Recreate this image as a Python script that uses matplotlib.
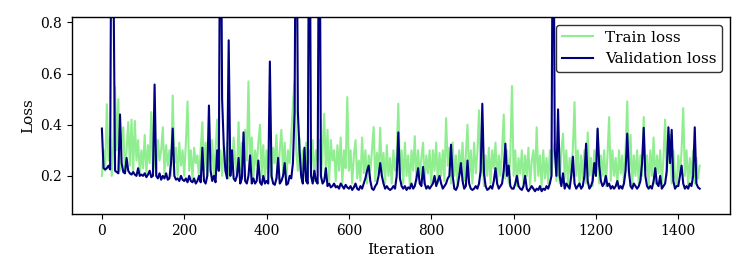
import numpy as np
import matplotlib
matplotlib.use("Agg")
import matplotlib.pyplot as plt

step = 4  # one recorded value every 4 iterations

val_loss = [
    # 0-96
    0.385, 0.23, 0.225, 0.23, 0.24, 0.225, 1.6, 1.0, 0.22, 0.215, 0.21, 0.44, 0.25,
    0.215, 0.21, 0.27, 0.22, 0.21, 0.205, 0.215, 0.205, 0.2, 0.23, 0.2, 0.205,
    # 100-196
    0.2, 0.21, 0.195, 0.205, 0.22, 0.195, 0.2, 0.557, 0.2, 0.19, 0.21, 0.185, 0.2,
    0.19, 0.21, 0.185, 0.19, 0.25, 0.385, 0.2, 0.185, 0.19, 0.18, 0.2, 0.185,
    # 200-296
    0.18, 0.19, 0.175, 0.2, 0.18, 0.175, 0.19, 0.17, 0.18, 0.2, 0.175, 0.31, 0.18,
    0.17, 0.2, 0.475, 0.22, 0.18, 0.2, 0.175, 0.3, 0.22, 1.6, 0.5, 0.32,
    # 300-396
    0.22, 0.19, 0.73, 0.2, 0.3, 0.19, 0.18, 0.2, 0.27, 0.17, 0.19, 0.37, 0.18,
    0.17, 0.2, 0.28, 0.17, 0.19, 0.17, 0.18, 0.26, 0.175, 0.165, 0.2, 0.17,
    # 400-496
    0.18, 0.17, 0.647, 0.2, 0.17, 0.165, 0.19, 0.27, 0.17, 0.18, 0.2, 0.25, 0.165,
    0.17, 0.2, 0.19, 0.25, 0.45, 1.6, 0.45, 0.3, 0.2, 0.17, 0.31, 0.18,
    # 500-596
    0.17, 1.6, 0.2, 0.17, 0.22, 0.18, 0.17, 1.6, 0.2, 0.17, 0.18, 0.23, 0.16,
    0.17, 0.155, 0.16, 0.17, 0.155, 0.16, 0.15, 0.17, 0.16, 0.15, 0.165, 0.155,
    # 600-696
    0.15, 0.16, 0.145, 0.155, 0.17, 0.15, 0.145, 0.16, 0.15, 0.17, 0.19, 0.22, 0.24,
    0.18, 0.15, 0.145, 0.16, 0.17, 0.2, 0.25, 0.2, 0.17, 0.15, 0.16, 0.15,
    # 700-796
    0.145, 0.15, 0.16, 0.15, 0.2, 0.37, 0.19, 0.16, 0.15, 0.16, 0.145, 0.155, 0.15,
    0.17, 0.15, 0.16, 0.19, 0.23, 0.17, 0.16, 0.235, 0.17, 0.15, 0.16, 0.15,
    # 800-896
    0.16, 0.17, 0.2, 0.16, 0.18, 0.2, 0.17, 0.15, 0.16, 0.17, 0.19, 0.2, 0.322,
    0.2, 0.15, 0.145, 0.16, 0.2, 0.25, 0.18, 0.15, 0.16, 0.26, 0.17, 0.15,
    # 900-996
    0.145, 0.15, 0.16, 0.15, 0.17, 0.22, 0.482, 0.21, 0.16, 0.145, 0.15, 0.16, 0.15,
    0.18, 0.23, 0.17, 0.15, 0.16, 0.17, 0.22, 0.326, 0.2, 0.24, 0.16, 0.15,
    # 1000-1096
    0.15, 0.17, 0.2, 0.16, 0.15, 0.145, 0.16, 0.2, 0.15, 0.14, 0.15, 0.16, 0.15,
    0.14, 0.15, 0.145, 0.16, 0.14, 0.15, 0.145, 0.16, 0.15, 0.17, 0.2, 1.6,
    # 1100-1196
    0.3, 0.2, 0.46, 0.2, 0.16, 0.21, 0.15, 0.17, 0.16, 0.15, 0.2, 0.275, 0.17,
    0.15, 0.16, 0.17, 0.15, 0.16, 0.2, 0.326, 0.18, 0.15, 0.16, 0.18, 0.25,
    # 1200-1296
    0.2, 0.385, 0.24, 0.18, 0.16, 0.17, 0.2, 0.16, 0.17, 0.15, 0.16, 0.15, 0.16,
    0.18, 0.15, 0.16, 0.15, 0.17, 0.22, 0.365, 0.22, 0.16, 0.15, 0.17, 0.16,
    # 1300-1396
    0.15, 0.16, 0.18, 0.25, 0.388, 0.2, 0.16, 0.15, 0.16, 0.15, 0.18, 0.23, 0.17,
    0.16, 0.2, 0.15, 0.16, 0.17, 0.22, 0.39, 0.25, 0.38, 0.18, 0.15, 0.16,
    # 1400-1452
    0.16, 0.2, 0.24, 0.17, 0.15, 0.16, 0.15, 0.17, 0.16, 0.2, 0.39, 0.17, 0.155, 0.15,
]

train_loss = [
    # 0-96
    0.2, 0.3, 0.22, 0.48, 0.26, 0.35, 0.2, 0.33, 0.547, 0.3, 0.5, 0.22, 0.33,
    0.39, 0.21, 0.3, 0.41, 0.24, 0.42, 0.22, 0.415, 0.26, 0.34, 0.21, 0.3,
    # 100-196
    0.23, 0.36, 0.21, 0.32, 0.25, 0.449, 0.22, 0.3, 0.2, 0.34, 0.26, 0.3, 0.39,
    0.21, 0.32, 0.24, 0.3, 0.2, 0.514, 0.25, 0.31, 0.2, 0.33, 0.24, 0.3,
    # 200-296
    0.2, 0.33, 0.491, 0.22, 0.3, 0.19, 0.31, 0.25, 0.28, 0.19, 0.3, 0.41, 0.22,
    0.33, 0.2, 0.3, 0.26, 0.34, 0.19, 0.3, 0.42, 0.22, 0.3, 0.2, 0.31,
    # 300-396
    0.24, 0.33, 0.19, 0.3, 0.22, 0.35, 0.25, 0.2, 0.41, 0.22, 0.33, 0.2, 0.38,
    0.26, 0.569, 0.22, 0.35, 0.19, 0.3, 0.24, 0.33, 0.4, 0.2, 0.32, 0.18,
    # 400-496
    0.3, 0.21, 0.35, 0.19, 0.31, 0.25, 0.36, 0.19, 0.3, 0.38, 0.22, 0.33, 0.18,
    0.3, 0.25, 0.36, 0.48, 0.57, 0.3, 0.22, 0.35, 0.19, 0.3, 0.24, 0.33,
    # 500-596
    0.19, 0.3, 0.24, 0.34, 0.18, 0.3, 0.26, 0.34, 0.19, 0.3, 0.443, 0.21, 0.38,
    0.18, 0.34, 0.26, 0.3, 0.18, 0.32, 0.22, 0.35, 0.17, 0.3, 0.23, 0.508,
    # 600-696
    0.22, 0.3, 0.17, 0.28, 0.34, 0.19, 0.26, 0.18, 0.35, 0.21, 0.3, 0.17, 0.28,
    0.22, 0.3, 0.391, 0.18, 0.29, 0.21, 0.388, 0.2, 0.29, 0.17, 0.32, 0.2,
    # 700-796
    0.27, 0.17, 0.3, 0.22, 0.28, 0.482, 0.2, 0.3, 0.17, 0.33, 0.2, 0.28, 0.16,
    0.3, 0.22, 0.355, 0.18, 0.3, 0.2, 0.27, 0.33, 0.17, 0.28, 0.21, 0.3,
    # 800-896
    0.17, 0.3, 0.22, 0.33, 0.17, 0.29, 0.2, 0.3, 0.18, 0.426, 0.24, 0.31, 0.17,
    0.33, 0.2, 0.28, 0.16, 0.3, 0.21, 0.33, 0.18, 0.28, 0.4, 0.19, 0.3,
    # 900-996
    0.17, 0.33, 0.21, 0.29, 0.456, 0.2, 0.3, 0.16, 0.28, 0.2, 0.31, 0.17, 0.3,
    0.23, 0.33, 0.17, 0.28, 0.2, 0.3, 0.44, 0.19, 0.3, 0.17, 0.28, 0.551,
    # 1000-1096
    0.2, 0.3, 0.16, 0.27, 0.21, 0.3, 0.17, 0.28, 0.2, 0.31, 0.16, 0.26, 0.3,
    0.18, 0.39, 0.2, 0.28, 0.16, 0.3, 0.19, 0.27, 0.17, 0.3, 0.2, 0.29,
    # 1100-1196
    0.33, 0.18, 0.28, 0.17, 0.3, 0.365, 0.19, 0.3, 0.16, 0.27, 0.2, 0.31, 0.488,
    0.2, 0.3, 0.16, 0.28, 0.19, 0.3, 0.17, 0.37, 0.2, 0.27, 0.16, 0.3,
    # 1200-1296
    0.2, 0.38, 0.17, 0.28, 0.2, 0.3, 0.16, 0.28, 0.43, 0.18, 0.3, 0.2, 0.27,
    0.16, 0.3, 0.21, 0.28, 0.17, 0.3, 0.491, 0.2, 0.36, 0.16, 0.28, 0.2,
    # 1300-1396
    0.3, 0.17, 0.28, 0.2, 0.43, 0.22, 0.28, 0.16, 0.3, 0.2, 0.35, 0.17, 0.28,
    0.21, 0.3, 0.17, 0.27, 0.42, 0.2, 0.3, 0.36, 0.17, 0.3, 0.2, 0.16,
    # 1400-1452
    0.28, 0.2, 0.3, 0.465, 0.2, 0.3, 0.16, 0.27, 0.19, 0.3, 0.17, 0.27, 0.19, 0.24,
]

iters_train = np.arange(len(train_loss)) * step
iters_val = np.arange(len(val_loss)) * step

plt.rcParams['font.family'] = ['DejaVu Serif']
plt.rcParams['font.size'] = 10

fig = plt.figure(figsize=(7.47, 2.8), dpi=100)
ax = fig.add_axes([72/747, 1 - 214/280, (730-72)/747, (214-17)/280])

ax.plot(iters_train, train_loss, color='lightgreen', lw=1.5, label='Train loss')
ax.plot(iters_val, val_loss, color='navy', lw=1.5, label='Validation loss')

ax.set_xlim(-72.6, 1525.6)
ax.set_ylim(0.051, 0.821)
ax.set_xticks([0, 200, 400, 600, 800, 1000, 1200, 1400])
ax.set_yticks([0.2, 0.4, 0.6, 0.8])
ax.set_xlabel('Iteration', fontsize=11)
ax.set_ylabel('Loss', fontsize=11)
ax.tick_params(direction='out', length=3.5, width=0.8, labelsize=10)
for s in ax.spines.values():
    s.set_color('black')
    s.set_linewidth(1.0)

leg = ax.legend(loc='upper right', fontsize=11, frameon=True, fancybox=True,
                edgecolor='black', framealpha=0.8, borderaxespad=0.5)
leg.get_frame().set_linewidth(1.0)

fig.savefig('out.png', dpi=100)
